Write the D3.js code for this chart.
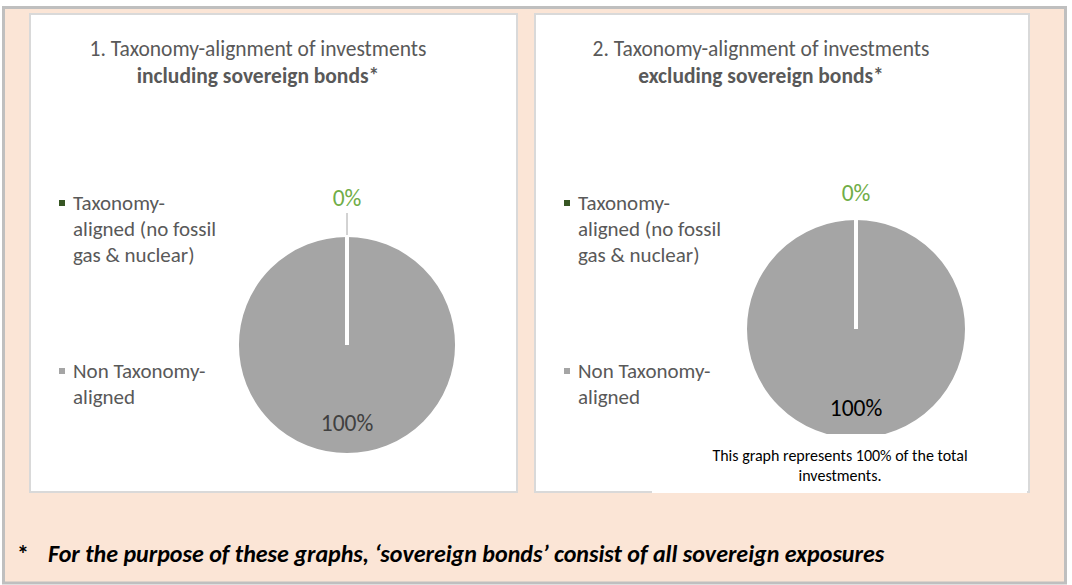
<!DOCTYPE html>
<meta charset="utf-8">
<script src="https://cdn.jsdelivr.net/npm/d3@7"></script>
<head>
<style>
  body { margin: 0; background: #fff; }
  text { font-family: Carlito, Lato, "Noto Sans", sans-serif; }
</style>
</head>
<body>
<script>
    // data
    var categories = ["Taxonomy-aligned (no fossil gas & nuclear)", "Non Taxonomy-aligned"];
    var legendLines = [["Taxonomy-", "aligned (no fossil", "gas & nuclear)"], ["Non Taxonomy-", "aligned"]];
    var colors = ["#375623", "#a5a5a5"];
    var inclValues = [0, 100];   // including sovereign bonds
    var exclValues = [0, 100];   // excluding sovereign bonds
    var titleLines1 = ["1. Taxonomy-alignment of investments", "including sovereign bonds*"];
    var titleLines2 = ["2. Taxonomy-alignment of investments", "excluding sovereign bonds*"];
    var noteText = ["This graph represents 100% of the total", "investments."];
    var footnote = "For the purpose of these graphs, \u2018sovereign bonds\u2019 consist of all sovereign exposures";

    var W = 1072, H = 585;

    var svg = d3.select("body").append("svg")
        .attr("width", W)
        .attr("height", H);

    // beige frame
    svg.append("rect")
        .attr("x", 3.5).attr("y", 7.5)
        .attr("width", 1062).attr("height", 575.5)
        .style("fill", "#fbe5d6")
        .style("stroke", "#bfbfbf")
        .style("stroke-width", 3);

    var pie = d3.pie().sort(null).value(function(d) { return d; });

    function drawPanel(opt) {
        var g = svg.append("g");

        g.append("rect")
            .attr("x", opt.x).attr("y", opt.y)
            .attr("width", opt.w).attr("height", opt.h)
            .style("fill", "#fff")
            .style("stroke", "#d9d9d9")
            .style("stroke-width", 2);

        // title
        var title = g.append("text")
            .attr("text-anchor", "middle")
            .style("font-size", "21.5px")
            .style("fill", "#595959");
        title.append("tspan")
            .attr("x", opt.titleX).attr("y", opt.y + 42)
            .text(opt.title[0]);
        title.append("tspan")
            .attr("x", opt.titleX).attr("y", opt.y + 69)
            .style("font-weight", "bold")
            .text(opt.title[1]);

        // legend
        var legY = [opt.y + 189, opt.y + 357];
        legendLines.forEach(function(lines, i) {
            g.append("rect")
                .attr("x", opt.x + 29).attr("y", legY[i] - 3)
                .attr("width", 6).attr("height", 6)
                .style("fill", colors[i]);
            var t = g.append("text")
                .style("font-size", "21px")
                .style("fill", "#595959");
            lines.forEach(function(l, j) {
                t.append("tspan")
                    .attr("x", opt.x + 43)
                    .attr("y", legY[i] + 6.5 + j * 26)
                    .text(l);
            });
        });

        // pie
        var arcs = pie(opt.values);
        var arc = d3.arc().innerRadius(0).outerRadius(opt.r);
        var pg = g.append("g")
            .attr("transform", "translate(" + opt.cx + "," + opt.cy + ")");

        pg.selectAll("path.slice")
            .data(arcs.slice().reverse())
            .enter()
            .append("path")
            .attr("class", "slice")
            .attr("d", arc)
            .style("fill", function(d) { return colors[d.index]; })
            .style("stroke", "#fff")
            .style("stroke-width", 4);

        // 0% label above
        var a0 = arcs[0];
        var mid = (a0.startAngle + a0.endAngle) / 2;
        var yTop = -opt.r;
        if (opt.leader) {
            pg.append("line")
                .attr("x1", opt.r * Math.sin(mid)).attr("y1", yTop)
                .attr("x2", opt.r * Math.sin(mid)).attr("y2", yTop - 22)
                .style("stroke", "#a6a6a6")
                .style("stroke-width", 1);
        }
        pg.append("text")
            .attr("x", 0)
            .attr("y", yTop + opt.zeroDy)
            .attr("text-anchor", "middle")
            .style("font-size", "23.5px")
            .style("fill", "#70ad47")
            .text(d3.format(".0f")(opt.values[0]) + "%");

        pg.append("text")
            .attr("x", 0)
            .attr("y", opt.r * opt.bigPos)
            .attr("text-anchor", "middle")
            .style("font-size", "23.5px")
            .style("fill", opt.bigColor)
            .text(d3.format(".0f")(opt.values[1]) + "%");

        return g;
    }

    drawPanel({x: 30, y: 14, w: 487, h: 478, titleX: 258, title: titleLines1,
        values: inclValues, cx: 347, cy: 345, r: 110, leader: true, zeroDy: -29,
        bigPos: 0.78, bigColor: "#404040"});

    drawPanel({x: 535, y: 14, w: 494, h: 478, titleX: 761, title: titleLines2,
        values: exclValues, cx: 856, cy: 329, r: 111, leader: false, zeroDy: -17,
        bigPos: 0.78, bigColor: "#000"});

    // note text box covering the bottom of the second pie
    svg.append("rect")
        .attr("x", 652).attr("y", 434)
        .attr("width", 375).attr("height", 59)
        .style("fill", "#fff");
    var note = svg.append("text")
        .attr("text-anchor", "middle")
        .style("font-size", "16px")
        .style("fill", "#000");
    noteText.forEach(function(l, j) {
        note.append("tspan")
            .attr("x", 840).attr("y", 460.5 + j * 20)
            .text(l);
    });

    // footnote
    svg.append("text")
        .attr("x", 17).attr("y", 562)
        .style("font-size", "24px")
        .style("font-weight", "bold")
        .text("*");
    svg.append("text")
        .attr("x", 48).attr("y", 562)
        .style("font-size", "24px")
        .style("font-weight", "bold")
        .style("font-style", "italic")
        .text(footnote);
</script>
</body>
